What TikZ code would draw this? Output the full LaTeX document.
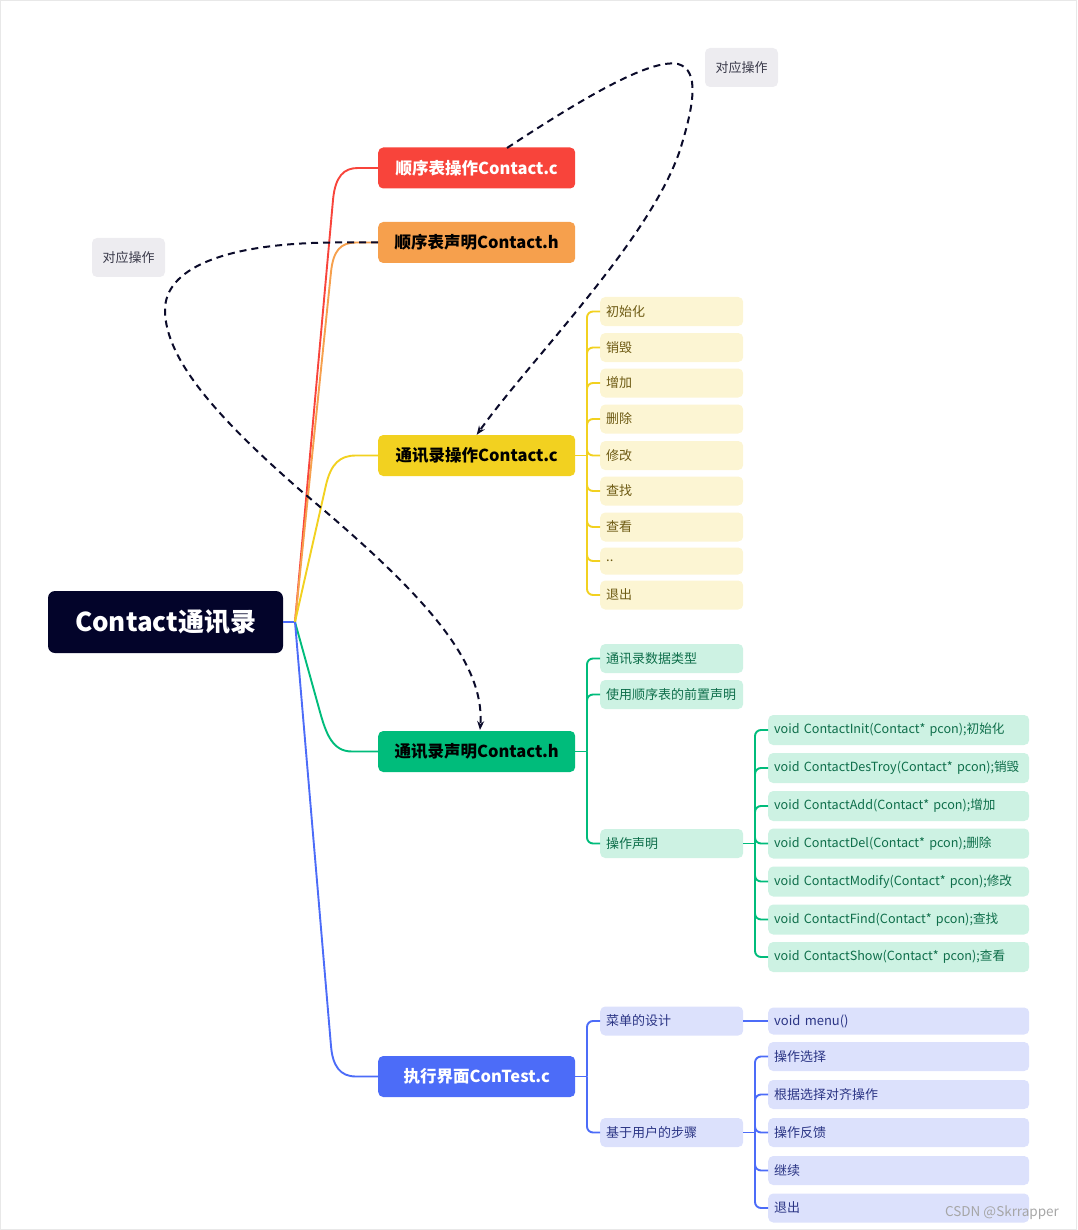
\documentclass[tikz,border=0pt]{standalone}
\usepackage{fontspec}
\setmainfont{Noto Sans CJK SC}
\usetikzlibrary{arrows.meta}
\definecolor{cRoot}{HTML}{03042A}
\definecolor{cRed}{HTML}{F8443B}
\definecolor{cOrange}{HTML}{F6A04D}
\definecolor{cYellow}{HTML}{F2D120}
\definecolor{cGreen}{HTML}{00BC7B}
\definecolor{cBlue}{HTML}{4C6CF8}
\definecolor{yFill}{HTML}{FCF5D3}
\definecolor{yText}{HTML}{6E5B14}
\definecolor{gFill}{HTML}{CDF2E3}
\definecolor{gText}{HTML}{0E6E4A}
\definecolor{bFill}{HTML}{DCE1FC}
\definecolor{bText}{HTML}{2B3585}
\definecolor{calFill}{HTML}{EDECF0}
\definecolor{calText}{HTML}{3A3A4A}
\definecolor{dashC}{HTML}{0B0B2A}
\begin{document}
\begin{tikzpicture}[x=1pt,y=-1pt,
  rootbox/.style={fill=cRoot, text=white, rounded corners=7pt, minimum width=235pt, minimum height=62pt, inner sep=0pt, font=\bfseries\fontsize{26}{30}\selectfont},
  branch/.style={rounded corners=5pt, minimum width=197pt, minimum height=41pt, inner sep=0pt, anchor=west, font=\bfseries\fontsize{16.5}{19}\selectfont},
  leaf/.style={rounded corners=5pt, inner xsep=6pt, inner ysep=0pt, anchor=west, align=left, minimum height=29pt, font=\fontsize{13}{15}\selectfont},
  yleaf/.style={leaf, fill=yFill, text=yText, text width=131pt},
  gleaf/.style={leaf, fill=gFill, text=gText, text width=131pt},
  gwide/.style={leaf, fill=gFill, text=gText, text width=249pt, minimum height=30pt, font=\fontsize{12.6}{15}\selectfont},
  bleaf/.style={leaf, fill=bFill, text=bText, text width=131pt},
  bwide/.style={leaf, fill=bFill, text=bText, text width=249pt},
  callout/.style={fill=calFill, text=calText, rounded corners=5pt, minimum width=73pt, minimum height=39pt, inner sep=0pt, font=\fontsize{13}{15}\selectfont},
  conn/.style={line width=1.9pt},
  sub/.style={line width=1.9pt, rounded corners=6pt},
  dashline/.style={dashC, line width=2pt, dash pattern=on 7pt off 5pt, -{Stealth[length=9pt,width=7pt]}}
]
\useasboundingbox (0,0) rectangle (1077,1230);
\draw[gray!18, line width=1pt] (0.5,0.5) rectangle (1076.5,1229.5);

% root and branches
\node[rootbox] (root) at (165.5,622) {Contact通讯录};
\coordinate (J) at (295,622);
\node[branch, fill=cRed, text=white] (b1) at (378,168) {顺序表操作Contact.c};
\node[branch, fill=cOrange, text=black] (b2) at (378,242.5) {顺序表声明Contact.h};
\node[branch, fill=cYellow, text=black] (b3) at (378,455.5) {通讯录操作Contact.c};
\node[branch, fill=cGreen, text=black] (b4) at (378,751.5) {通讯录声明Contact.h};
\node[branch, fill=cBlue, text=white] (b5) at (378,1076.5) {执行界面ConTest.c};

\draw[conn, cBlue] (root.east) -- (J);
\draw[conn, cRed] (J) -- (333,200) .. controls (335.2,176) and (344,168) .. (358,168) -- (b1.west);
\draw[conn, cOrange] (J) -- (331,272) .. controls (333.3,250) and (341,242.5) .. (356,242.5) -- (b2.west);
\draw[conn, cYellow] (J) -- (326,485) .. controls (331,463.5) and (340,455.5) .. (356,455.5) -- (b3.west);
\draw[conn, cGreen] (J) -- (320,712) .. controls (326.4,735) and (333,751.5) .. (352,751.5) -- (b4.west);
\draw[conn, cBlue] (J) -- (331,1046) .. controls (332.7,1066) and (340,1076.5) .. (356,1076.5) -- (b5.west);

% yellow children
\node[yleaf] (y1) at (600,311.5) {初始化};
\node[yleaf] (y2) at (600,347.5) {销毁};
\node[yleaf] (y3) at (600,383) {增加};
\node[yleaf] (y4) at (600,419) {删除};
\node[yleaf] (y5) at (600,455.5) {修改};
\node[yleaf] (y6) at (600,491) {查找};
\node[yleaf] (y7) at (600,527) {查看};
\node[yleaf, minimum height=27pt] (y8) at (600,561) {..};
\node[yleaf] (y9) at (600,595) {退出};
\coordinate (yj) at (587,455.5);
\draw[sub, cYellow] (b3.east) -- (yj);
\foreach \n in {y1,y2,y3,y4,y5,y6,y7,y8,y9} \draw[sub, cYellow] (yj) |- (\n.west);

% green children
\node[gleaf] (g1) at (600,658.5) {通讯录数据类型};
\node[gleaf] (g2) at (600,694.5) {使用顺序表的前置声明};
\node[gleaf] (g3) at (600,843.5) {操作声明};
\coordinate (gj) at (587,751.5);
\draw[sub, cGreen] (b4.east) -- (gj);
\foreach \n in {g1,g2,g3} \draw[sub, cGreen] (gj) |- (\n.west);

\node[gwide] (h1) at (768,730) {void ContactInit(Contact* pcon);初始化};
\node[gwide] (h2) at (768,768) {void ContactDesTroy(Contact* pcon);销毁};
\node[gwide] (h3) at (768,806) {void ContactAdd(Contact* pcon);增加};
\node[gwide] (h4) at (768,843.5) {void ContactDel(Contact* pcon);删除};
\node[gwide] (h5) at (768,881.5) {void ContactModify(Contact* pcon);修改};
\node[gwide] (h6) at (768,919.5) {void ContactFind(Contact* pcon);查找};
\node[gwide] (h7) at (768,957) {void ContactShow(Contact* pcon);查看};
\coordinate (hj) at (755,843.5);
\draw[sub, cGreen] (g3.east) -- (hj);
\foreach \n in {h1,h2,h3,h4,h5,h6,h7} \draw[sub, cGreen] (hj) |- (\n.west);

% blue children
\node[bleaf] (c1) at (600,1021) {菜单的设计};
\node[bleaf] (c2) at (600,1132.5) {基于用户的步骤};
\coordinate (cj) at (587,1076.5);
\draw[sub, cBlue] (b5.east) -- (cj);
\foreach \n in {c1,c2} \draw[sub, cBlue] (cj) |- (\n.west);

\node[bwide, minimum height=27pt] (d0) at (768,1021) {void menu()};
\draw[sub, cBlue] (c1.east) -- (d0.west);
\node[bwide] (d1) at (768,1056.5) {操作选择};
\node[bwide] (d2) at (768,1094.5) {根据选择对齐操作};
\node[bwide] (d3) at (768,1132.5) {操作反馈};
\node[bwide] (d4) at (768,1170.5) {继续};
\node[bwide] (d5) at (768,1208) {退出};
\coordinate (dj) at (755,1132.5);
\draw[sub, cBlue] (c2.east) -- (dj);
\foreach \n in {d1,d2,d3,d4,d5} \draw[sub, cBlue] (dj) |- (\n.west);

% callouts
\node[callout] (k1) at (741.5,67.5) {对应操作};
\node[callout] (k2) at (128.5,257.5) {对应操作};

% dashed relations
\coordinate (s1) at (507,148);
\draw[dashline] (s1) .. controls (580,100) and (650,58) .. (678,64) .. controls (700,70) and (694,105) .. (680,150) .. controls (650,240) and (530,360) .. (b3.north);
\draw[dashline] (b2.west) -- (330,242.5) .. controls (220,244) and (165,270) .. (165,310) .. controls (165,360) and (220,420) .. (300,490) .. controls (420,590) and (485,660) .. (480,730);

% watermark
\node[text=gray!70, font=\fontsize{13.5}{15}\selectfont, inner sep=0pt] (wm) at (1002,1212.5) {CSDN @Skrrapper};
\end{tikzpicture}
\end{document}
